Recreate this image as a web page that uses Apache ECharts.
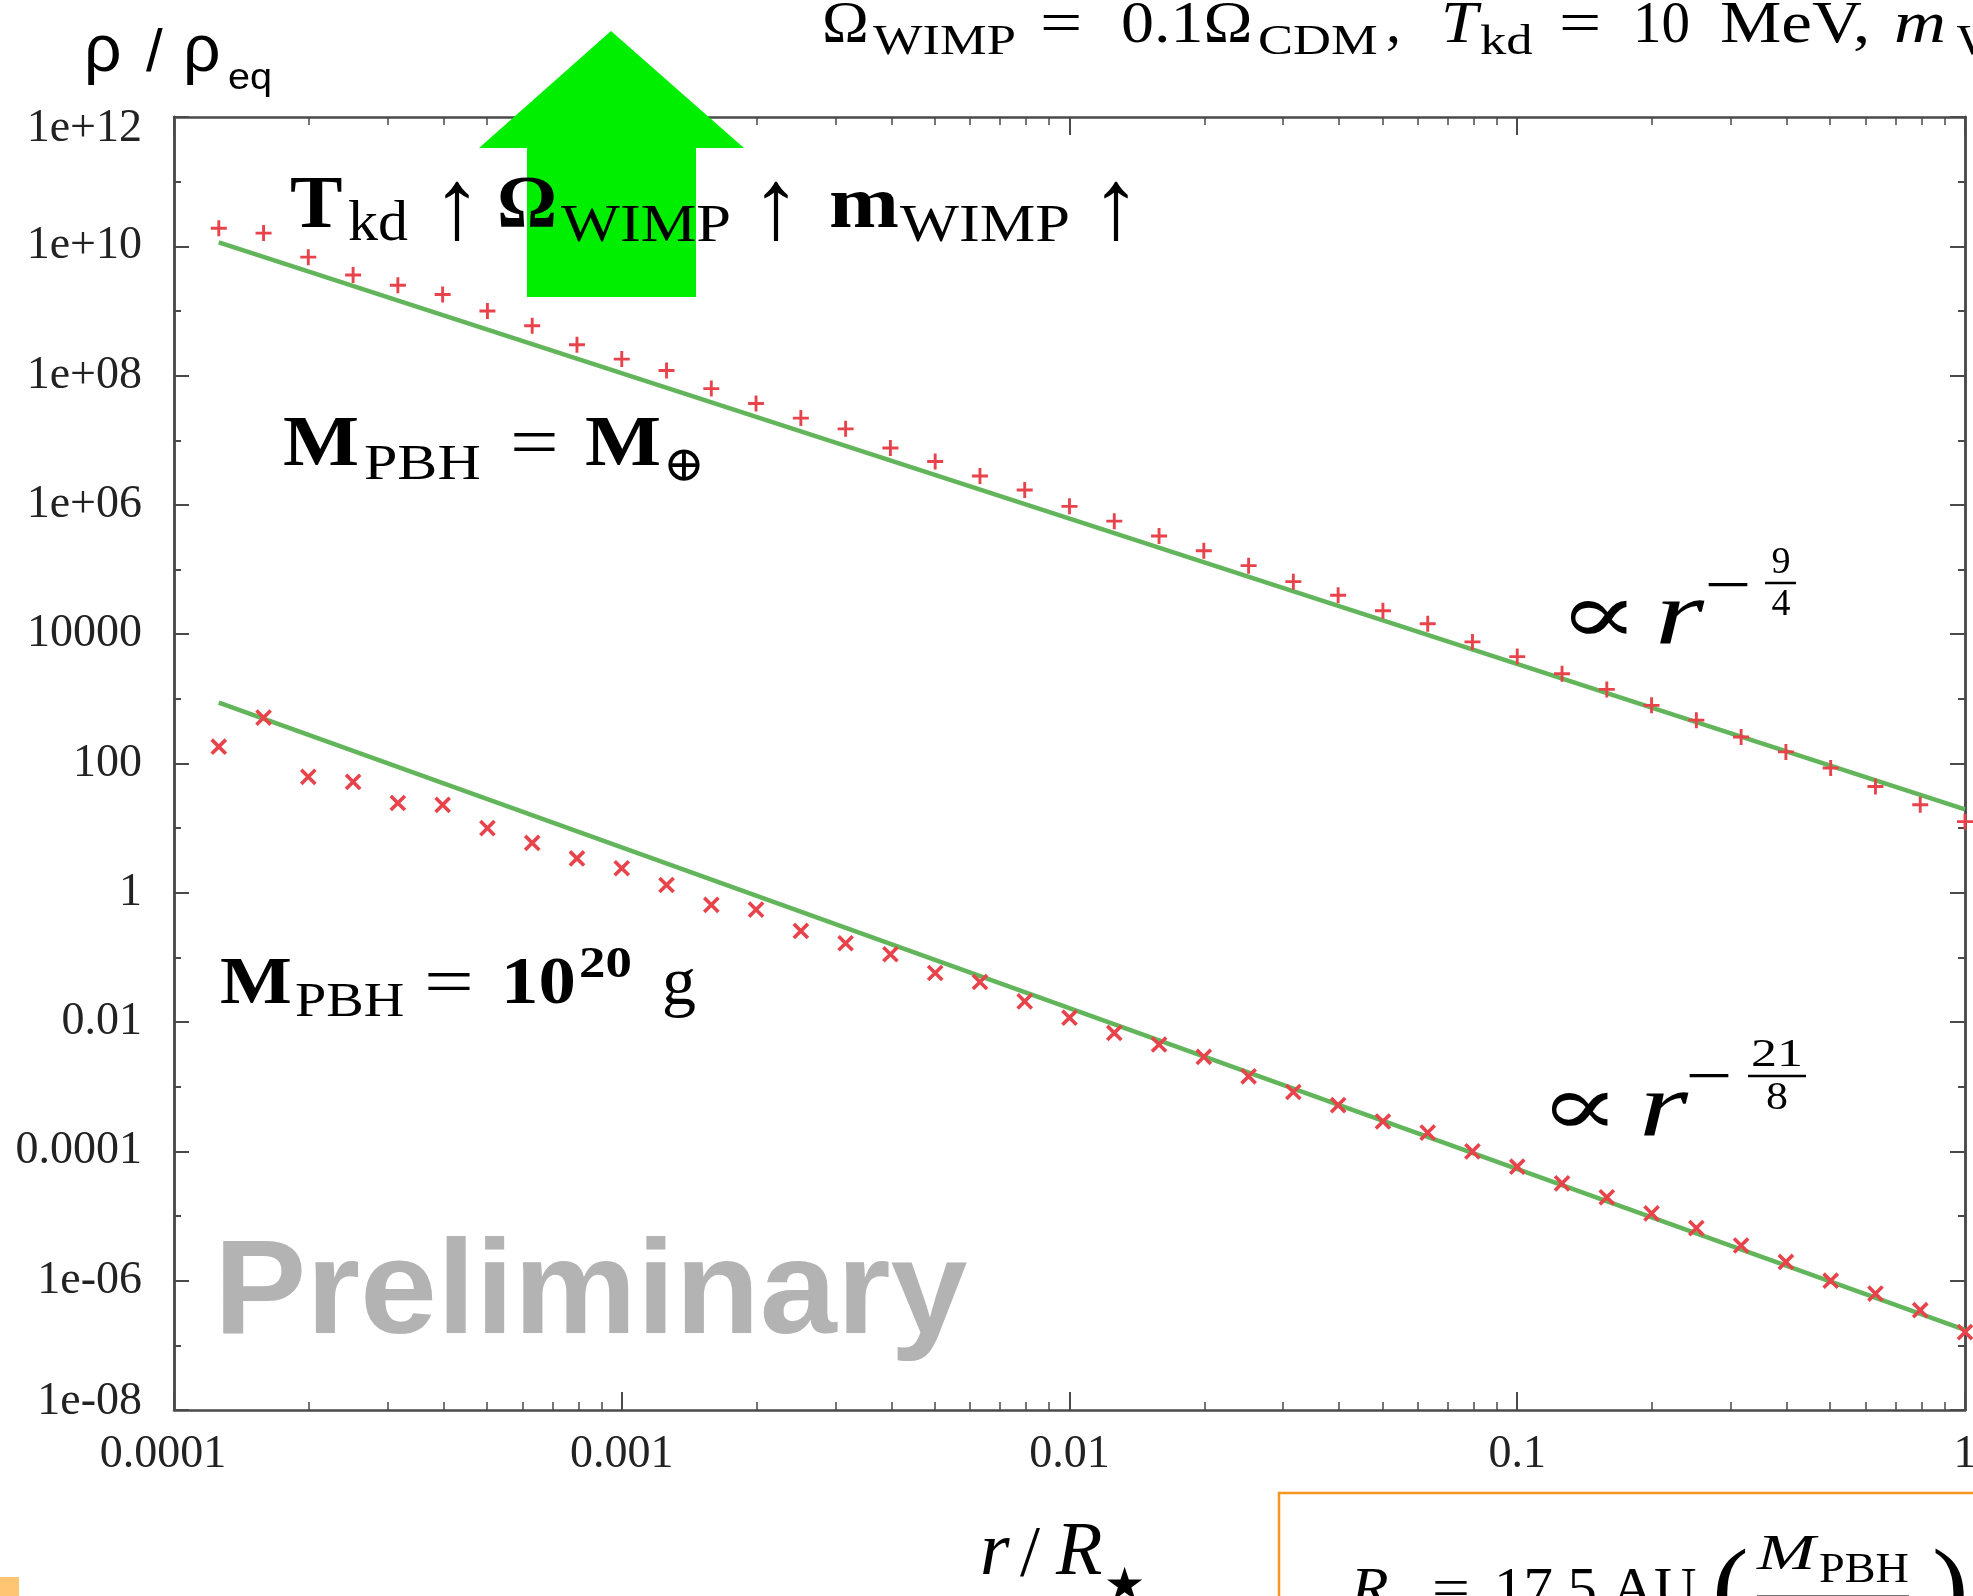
<!DOCTYPE html>
<html><head><meta charset="utf-8">
<script src="https://cdn.jsdelivr.net/npm/echarts@6/dist/echarts.min.js"></script>
<style>html,body{margin:0;padding:0;background:#fff}#c{width:1973px;height:1596px}</style>
</head><body><div id="c"></div>
<script>
// ---- data ----
const xValues = [1.259e-4,1.585e-4,1.995e-4,2.512e-4,3.162e-4,3.981e-4,5.012e-4,6.310e-4,7.943e-4,1.000e-3,
  1.259e-3,1.585e-3,1.995e-3,2.512e-3,3.162e-3,3.981e-3,5.012e-3,6.310e-3,7.943e-3,1.000e-2,
  1.259e-2,1.585e-2,1.995e-2,2.512e-2,3.162e-2,3.981e-2,5.012e-2,6.310e-2,7.943e-2,0.1,
  0.1259,0.1585,0.1995,0.2512,0.3162,0.3981,0.5012,0.6310,0.7943,1.0];
const upperValues = [1.9e10,1.6e10,6.8e9,3.6e9,2.5e9,1.8e9,1.0e9,5.9e8,3.0e8,1.8e8,
  1.2e8,6.3e7,3.7e7,2.2e7,1.5e7,7.6e6,4.7e6,2.8e6,1.7e6,9.5e5,
  5.6e5,3.3e5,1.95e5,1.15e5,6.5e4,4.0e4,2.3e4,1.45e4,7.6e3,4.5e3,
  2.45e3,1.4e3,794,468,257,151,85,44,23,12.6];
const lowerValues = [182,513,62,52,24.5,22.9,10,5.9,3.4,2.4,
  1.32,0.65,0.55,0.257,0.166,0.112,0.0575,0.0417,0.0209,0.0117,
  6.8e-3,4.5e-3,2.9e-3,1.45e-3,8.3e-4,5.2e-4,2.9e-4,1.95e-4,1.0e-4,5.8e-5,
  3.2e-5,1.95e-5,1.1e-5,6.5e-6,3.5e-6,1.95e-6,1.0e-6,6.3e-7,3.5e-7,1.6e-7];
const fitX = [1.259e-4, 1];
const fitUpper = [1.15e10, 19.5];
const fitLower = [871, 1.74e-7];
const xTickLabels = ['0.0001','0.001','0.01','0.1','1'];
const yTickLabels = ['1e-08','1e-06','0.0001','0.01','1','100','10000','1e+06','1e+08','1e+10','1e+12'];

// ---- chart ----
const chart = echarts.init(document.getElementById('c'), null, {renderer:'canvas', width:1973, height:1596});
const AX = '#4a4a4a', RED = '#e8434b', GREEN = '#62b55a';
const SERIF = '"Liberation Serif","DejaVu Serif",serif';
const SANS = '"Liberation Sans","DejaVu Sans",sans-serif';
const LABFONT = {fontFamily:SERIF, fontSize:46, color:'#222'};
function xLab(v){ const e = Math.round(Math.log10(v)); const s = xTickLabels[e+4]; if (s === undefined) return '';
  return e === -4 ? '{f|' + s + '}' : s; }
function yLab(v){ const e = Math.round(Math.log10(v)); if (e % 2 !== 0) return ''; const s = yTickLabels[(e+8)/2]; if (s === undefined) return '';
  if (e === 12) return '{t|' + s + '}'; if (e === -8) return '{b|' + s + '}'; return s; }
function mkX(pos, showLabel){ return { type:'log', logBase:10, min:1e-4, max:1, position:pos,
  axisLine:{show:true,onZero:false,lineStyle:{color:AX,width:2.5}},
  axisTick:{show:true,inside:true,length:18,lineStyle:{color:AX,width:2}},
  minorTick:{show:true,splitNumber:9,length:8,lineStyle:{color:AX,width:1.5}},
  splitLine:{show:false}, minorSplitLine:{show:false},
  axisLabel:Object.assign({show:showLabel,formatter:xLab,margin:22,
    rich:{f:Object.assign({padding:[0,22,0,0]}, LABFONT)}}, LABFONT) }; }
function mkY(pos, interval, len, showLabel){ return { type:'log', logBase:10, min:1e-8, max:1e12, interval:interval, position:pos,
  axisLine:{show:true,onZero:false,lineStyle:{color:AX,width:2.5}},
  axisTick:{show:true,inside:true,length:len,lineStyle:{color:AX,width:2}},
  splitLine:{show:false},
  axisLabel:Object.assign({show:showLabel,formatter:yLab,margin:32,
    rich:{t:Object.assign({padding:[24,0,0,0]}, LABFONT), b:Object.assign({padding:[0,0,16,0]}, LABFONT)}}, LABFONT) }; }

// text helpers (baseline positioned; sx = horizontal stretch)
function fnt(size, o){ return (o.italic?'italic ':'') + (o.bold?'bold ':'') + size + 'px ' + (o.sans?SANS:SERIF); }
function t(text, x, base, size, o){ o = o || {};
  const al = o.align || 'left';
  return { type:'text', x:x, y: base - 0.31*size, scaleX:o.sx||1, z:30,
    style:{ text:text, font:fnt(size,o), fill:o.fill||'#000', textAlign:al, align:al, textVerticalAlign:'middle', verticalAlign:'middle' } }; }
function tc(text, x, cy, size, o){ o = o || {};
  return { type:'text', x:x, y:cy, scaleX:o.sx||1, z:30,
    style:{ text:text, font:fnt(size,o), fill:o.fill||'#000', textAlign:'center', align:'center', textVerticalAlign:'middle', verticalAlign:'middle' } }; }
function ln(x1,y1,x2,y2,w,c){ return {type:'line', z:30, shape:{x1:x1,y1:y1,x2:x2,y2:y2}, style:{stroke:c||'#000', lineWidth:w}}; }

const graphics = [
  // green arrow
  {type:'polygon', z:10, shape:{points:[[611,31],[744,148],[696,148],[696,297],[527,297],[527,148],[479,148]]}, style:{fill:'#00ee00'}},
  // y title
  t('ρ', 84, 73, 66, {sans:true}), t('/', 146, 73, 60, {sans:true}), t('ρ', 183, 73, 66, {sans:true}),
  t('eq', 228, 90, 36, {sans:true, sx:1.1}),
  // top title
  t('Ω', 822, 45, 60, {sx:1.05}), t('WIMP', 873, 56, 42, {sx:1.25}),
  t('=', 1040, 45, 60, {sx:1.25}), t('0.1Ω', 1121, 45, 60, {sx:1.1}), t('CDM', 1258, 56, 42, {sx:1.25}),
  t(',', 1386, 45, 60),
  t('T', 1441, 45, 60, {italic:true, sx:1.1}), t('kd', 1480, 56, 42, {sx:1.25}),
  t('=', 1559, 45, 60, {sx:1.25}), t('10', 1633, 45, 60, {sx:0.95}), t('MeV,', 1720, 45, 60, {sx:1.15}),
  t('m', 1894, 45, 60, {italic:true, sx:1.2}), t('WIMP', 1957, 56, 42, {sx:1.25}),
  // bold line
  t('T', 290, 231, 75, {bold:true, sx:1.05}), t('kd', 348, 243, 56, {sx:1.07}),
  tc('↑', 457, 212, 100),
  t('Ω', 497, 231, 75, {bold:true}), t('WIMP', 561, 243, 52, {sx:1.2}),
  tc('↑', 776, 212, 100),
  t('m', 829, 231, 75, {bold:true, sx:1.12}), t('WIMP', 900, 243, 52, {sx:1.2}),
  tc('↑', 1116, 212, 100),
  // M_PBH = M_earth
  t('M', 283, 469, 72, {bold:true, sx:1.12}), t('PBH', 364, 481, 50, {sx:1.2}),
  t('=', 510, 469, 72, {sx:1.2}), t('M', 585, 469, 72, {bold:true, sx:1.12}),
  tc('⊕', 684, 468, 50),
  // M_PBH = 10^20 g
  t('M', 220, 1007, 68, {bold:true, sx:1.12}), t('PBH', 295, 1018, 48, {sx:1.17}),
  t('=', 424, 1007, 68, {sx:1.3}), t('10', 501, 1007, 68, {bold:true, sx:1.1}),
  t('20', 579, 979, 44, {bold:true, sx:1.2}), t('g', 662, 1007, 68),
  // power laws
  t('∝', 1558, 647, 86, {sx:1.4}), t('r', 1655, 647, 90, {italic:true, sx:1.4}),
  tc('−', 1728, 589, 64, {sx:1.3}), tc('9', 1781, 563, 38), ln(1765,583,1796,583,2.5), tc('4', 1781, 605, 38),
  t('∝', 1539, 1139, 86, {sx:1.4}), t('r', 1639, 1139, 90, {italic:true, sx:1.4}),
  tc('−', 1709, 1080, 64, {sx:1.3}), tc('21', 1777, 1055, 40, {sx:1.3}), ln(1748,1076,1806,1076,2.5), tc('8', 1777, 1098, 40, {sx:1.1}),
  // Preliminary
  t('Preliminary', 214, 1338, 133, {bold:true, sans:true, fill:'#b3b3b3', sx:1.04}),
  // x axis title
  t('r', 980, 1578, 76, {italic:true}), t('/', 1020, 1578, 72), t('R', 1056, 1578, 76, {italic:true}),
  tc('★', 1124, 1588, 46),
  // orange box
  {type:'rect', z:5, shape:{x:1279, y:1493, width:800, height:200}, style:{fill:'none', stroke:'#f7961e', lineWidth:2.5}},
  t('R', 1351, 1610, 56, {italic:true, sx:1.1}), t('=', 1432, 1610, 56, {sx:1.2}), t('17.5 AU', 1494, 1610, 56, {sx:1.05}),
  t('(', 1712, 1630, 110), t('M', 1757, 1571, 50, {italic:true, sx:1.4}), t('PBH', 1819, 1584, 42, {sx:1.1}),
  ln(1757,1596,1909,1596,2,'#777'), t(')', 1932, 1630, 110),
  // small orange square
  {type:'rect', z:5, shape:{x:0, y:1577, width:19, height:19}, style:{fill:'#ffc573'}}
];

const plusPath = 'path://M0,4.1H10V5.9H0Z M4.1,0H5.9V10H4.1Z';
const option = {
  animation:false,
  backgroundColor:'#fff',
  grid:{left:174, right:8, top:117, bottom:186, containLabel:false, outerBoundsMode:'none'},
  xAxis:[mkX('bottom', true), mkX('top', false)],
  yAxis:[mkY('left', 2, 15, true), mkY('left', 1, 7, false), mkY('right', 2, 15, false), mkY('right', 1, 7, false)],
  series:[
    {type:'line', xAxisIndex:0, yAxisIndex:0, data:fitX.map((x,i)=>[x, fitUpper[i]]), showSymbol:false, symbol:'none', lineStyle:{color:GREEN, width:4.5}, z:3, silent:true},
    {type:'line', xAxisIndex:0, yAxisIndex:0, data:fitX.map((x,i)=>[x, fitLower[i]]), showSymbol:false, symbol:'none', lineStyle:{color:GREEN, width:4.5}, z:3, silent:true},
    {type:'scatter', xAxisIndex:0, yAxisIndex:0, data:xValues.map((x,i)=>[x, upperValues[i]]), symbol:plusPath, symbolSize:16, itemStyle:{color:RED, opacity:1}, clip:false, z:4, silent:true},
    {type:'scatter', xAxisIndex:0, yAxisIndex:0, data:xValues.map((x,i)=>[x, lowerValues[i]]), symbol:plusPath, symbolSize:20, symbolRotate:45, itemStyle:{color:RED, opacity:1}, clip:false, z:4, silent:true}
  ],
  graphic:{elements:graphics}
};
chart.setOption(option);
</script></body></html>
